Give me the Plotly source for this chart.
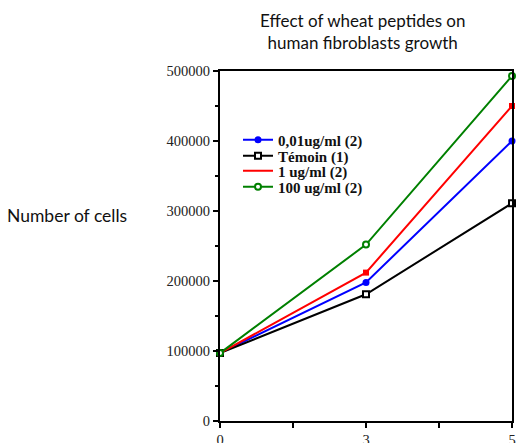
import plotly.graph_objects as go

days = ["0", "3", "5"]
axis_days = ["0", " ", "3", "  ", "5"]
ctrl = [97000, 181000, 311000]
pep_001 = [97000, 198000, 400000]
pep_1 = [97000, 212000, 450000]
pep_100 = [97000, 252000, 493000]
y_ticks = [0, 100000, 200000, 300000, 400000, 500000]
y_labels = ["0", "100000", "200000", "300000", "400000", "500000"]

fig = go.Figure()

fig.add_trace(go.Scatter(x=days, y=pep_001, name="0,01ug/ml (2)", mode="lines+markers",
                         line=dict(color="#0000ff", width=2), legend="legend",
                         marker=dict(symbol="circle", size=7, color="#0000ff"),
                         cliponaxis=False))
fig.add_trace(go.Scatter(x=days, y=ctrl, name="Témoin (1)", mode="lines+markers",
                         line=dict(color="black", width=2), legend="legend2",
                         marker=dict(symbol="square", size=6, color="white",
                                     line=dict(color="black", width=2)),
                         cliponaxis=False))
fig.add_trace(go.Scatter(x=days, y=pep_1, name="1 ug/ml (2)", mode="lines",
                         line=dict(color="#ff0000", width=2), legendgroup="red",
                         legend="legend3", cliponaxis=False))
fig.add_trace(go.Scatter(x=days, y=pep_1, mode="markers", showlegend=False, legendgroup="red",
                         marker=dict(symbol="square", size=6, color="#ff0000"),
                         cliponaxis=False))
fig.add_trace(go.Scatter(x=days, y=pep_100, name="100 ug/ml (2)", mode="lines+markers",
                         line=dict(color="#008000", width=2), legend="legend4",
                         marker=dict(symbol="circle", size=6, color="white",
                                     line=dict(color="#008000", width=2)),
                         cliponaxis=False))

leg_font = dict(family="Liberation Serif, serif", size=15, color="#111", weight="bold")


def leg(ypx):
    return dict(x=(238 - 220) / 292, y=(421 - ypx) / 350, xanchor="left", yanchor="middle",
                bgcolor="rgba(0,0,0,0)", font=leg_font, borderwidth=0)


fig.update_layout(
    width=516, height=443,
    margin=dict(l=220, r=4, t=71, b=22, autoexpand=False),
    paper_bgcolor="white", plot_bgcolor="white",
    title=dict(text="Effect of wheat peptides on<br>human fibroblasts growth",
               x=0.703, xanchor="center", y=0.94, yanchor="top",
               font=dict(family="Lato, Open Sans, sans-serif", size=17, color="#111")),
    legend=leg(140), legend2=leg(156), legend3=leg(171), legend4=leg(187),
    annotations=[dict(text="Number of cells", x=-0.735, y=(421 - 215) / 350,
                      xref="paper", yref="paper",
                      showarrow=False, xanchor="left", yanchor="middle",
                      font=dict(family="Lato, Open Sans, sans-serif", size=17.5, color="#111"))],
)

fig.update_xaxes(type="category", categoryarray=axis_days, categoryorder="array",
                 range=[0, 4], showgrid=False, zeroline=False, automargin=False,
                 showline=True, linecolor="black", linewidth=2, mirror=True,
                 ticks="outside", ticklen=5, tickwidth=2, tickcolor="black",
                 tickfont=dict(family="Liberation Serif, serif", size=14.5, color="#222"))
fig.update_yaxes(range=[0, 500000], tickvals=y_ticks, ticktext=y_labels,
                 showgrid=False, zeroline=False, automargin=False,
                 showline=True, linecolor="black", linewidth=2, mirror=True,
                 ticks="outside", ticklen=5, tickwidth=2, tickcolor="black",
                 minor=dict(dtick=50000, ticks="outside", ticklen=3, tickwidth=2,
                            tickcolor="black", showgrid=False),
                 tickfont=dict(family="Liberation Serif, serif", size=14.5, color="#222"))

fig.write_html("out.html", config={"displayModeBar": False},
               post_script="document.body.style.margin='0';document.body.style.overflow='hidden';")
